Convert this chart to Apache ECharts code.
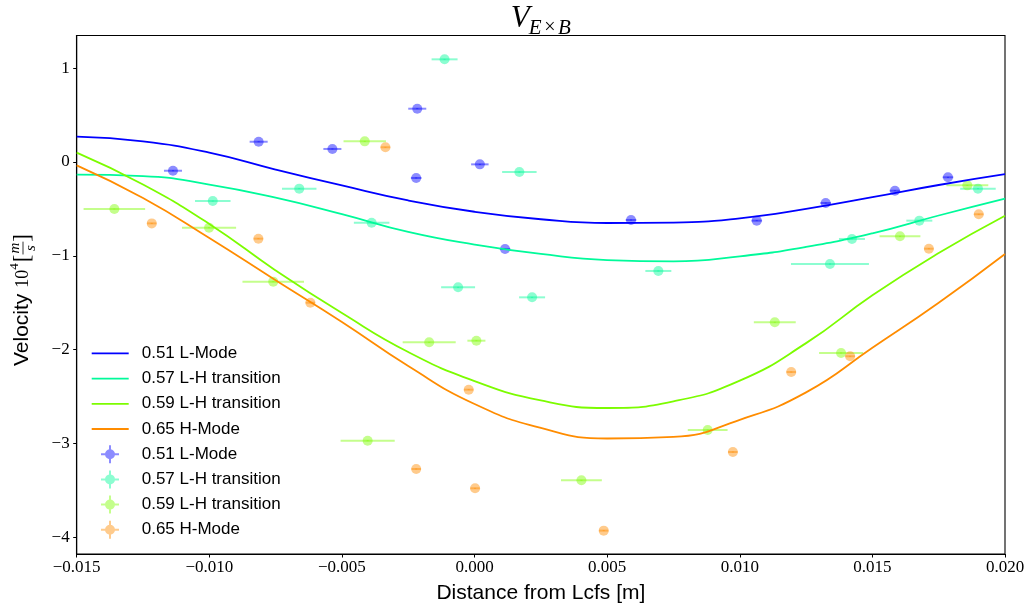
<!DOCTYPE html>
<html>
<head>
<meta charset="utf-8">
<script src="https://cdn.jsdelivr.net/npm/echarts@6/dist/echarts.min.js"></script>
<style>
  html, body { margin: 0; padding: 0; background: #fff; }
  #chart { width: 1029px; height: 610px; }
</style>
</head>
<body>
<div id="chart"></div>
<script>
// Axis ticks
const xTicks = [-0.015, -0.010, -0.005, 0.000, 0.005, 0.010, 0.015, 0.020];
const yTicks = [-4, -3, -2, -1, 0, 1];

// Shot labels
const groupLabels = ['0.51 L-Mode', '0.57 L-H transition', '0.59 L-H transition', '0.65 H-Mode'];

// Fitted profiles, sampled along the radial distance
const fitX   = [-0.015, -0.0125, -0.010, -0.0075, -0.005, -0.0025, 0.000, 0.0025, 0.005, 0.0075, 0.010, 0.0125, 0.015, 0.0175, 0.020];
const fit051 = [0.27, 0.22, 0.10, -0.08, -0.25, -0.41, -0.53, -0.61, -0.65, -0.645, -0.60, -0.50, -0.375, -0.245, -0.13];
const fit057 = [-0.135, -0.15, -0.24, -0.38, -0.555, -0.745, -0.88, -0.98, -1.045, -1.058, -1.005, -0.905, -0.76, -0.57, -0.39];
const fit059 = [0.10, -0.24, -0.66, -1.155, -1.61, -2.025, -2.334, -2.541, -2.621, -2.55, -2.33, -1.93, -1.42, -0.97, -0.572];
const fit065 = [-0.036, -0.384, -0.81, -1.26, -1.705, -2.174, -2.579, -2.834, -2.946, -2.93, -2.747, -2.455, -1.98, -1.50, -0.98];

// Measured points: position, velocity, and their uncertainties
const x051 = [-0.01137, -0.00814, -0.00536, -0.00216, -0.0022, 0.0002, 0.00115, 0.0059, 0.01064, 0.01324, 0.01585, 0.01785];
const y051 = [-0.093, 0.216, 0.139, 0.568, -0.170, -0.025, -0.927, -0.618, -0.625, -0.437, -0.306, -0.163];
const xe051 = [0.00034, 0.00034, 0.00034, 0.00034, 0.0002, 0.00033, 0.0002, 0.0002, 0.0002, 0.0002, 0.0002, 0.0002];
const ye051 = [0.005, 0.005, 0.005, 0.005, 0.005, 0.005, 0.005, 0.005, 0.005, 0.005, 0.005, 0.005];

const x057 = [-0.00987, -0.00661, -0.00388, -0.00113, 0.00169, 0.00693, -0.00062, 0.00217, 0.01423, 0.0134, 0.01677, 0.01898];
const y057 = [-0.416, -0.284, -0.647, 1.094, -0.107, -1.161, -1.335, -1.442, -0.820, -1.087, -0.625, -0.284];
const xe057 = [0.00067, 0.00065, 0.00067, 0.00049, 0.00065, 0.00049, 0.00064, 0.00049, 0.00049, 0.00147, 0.00049, 0.00067];
const ye057 = [0.005, 0.005, 0.005, 0.005, 0.005, 0.005, 0.005, 0.005, 0.005, 0.005, 0.005, 0.005];

const x059 = [-0.01358, -0.01001, -0.00414, -0.00759, -0.00403, -0.00171, 0.00007, 0.00403, 0.00879, 0.01132, 0.01382, 0.01604, 0.01858];
const y059 = [-0.501, -0.700, 0.220, -1.275, -2.970, -1.921, -1.904, -3.392, -2.856, -1.708, -2.035, -0.792, -0.249];
const xe059 = [0.00116, 0.00102, 0.0008, 0.00116, 0.00102, 0.001, 0.00034, 0.00077, 0.00075, 0.00079, 0.00083, 0.00077, 0.00079];
const ye059 = [0.005, 0.005, 0.005, 0.005, 0.005, 0.005, 0.005, 0.005, 0.005, 0.005, 0.005, 0.005, 0.005];

const x065 = [-0.01217, -0.00815, -0.00336, -0.00619, -0.00022, -0.0022, 0.00002, 0.00487, 0.00974, 0.01194, 0.01416, 0.01713, 0.01901];
const y065 = [-0.654, -0.817, 0.157, -1.499, -2.426, -3.271, -3.477, -3.928, -3.09, -2.238, -2.070, -0.924, -0.557];
const xe065 = [0.00018, 0.00018, 0.00018, 0.00018, 0.00018, 0.00018, 0.00018, 0.00018, 0.00018, 0.00018, 0.00018, 0.00018, 0.00018];
const ye065 = [0.005, 0.005, 0.005, 0.005, 0.005, 0.005, 0.005, 0.005, 0.005, 0.005, 0.005, 0.005, 0.005];

// ---------------------------------------------------------------------------
const colors = ['#0000ff', '#00fa9a', '#7cfc00', '#ff8c00'];
const alpha = 0.45;
const SANS = '"Liberation Sans", Arial, Helvetica, sans-serif';
const SERIF = '"Liberation Serif", "Times New Roman", serif';

function rgba(hex, a) {
  const n = parseInt(hex.slice(1), 16);
  return 'rgba(' + (n >> 16) + ',' + ((n >> 8) & 255) + ',' + (n & 255) + ',' + a + ')';
}
const minus = v => (v < 0 ? '\u2212' : '');

const fits = [fit051, fit057, fit059, fit065];
const pts = [
  [x051, y051, xe051, ye051],
  [x057, y057, xe057, ye057],
  [x059, y059, xe059, ye059],
  [x065, y065, xe065, ye065]
];

const lineSeries = fits.map((ys, g) => ({
  name: 'fit:' + groupLabels[g],
  type: 'line',
  data: fitX.map((x, i) => [x, ys[i]]),
  smooth: 0.5,
  showSymbol: false,
  silent: true,
  z: 3,
  lineStyle: { color: colors[g], width: 1.8 },
  itemStyle: { color: colors[g] }
}));

function errorBarRenderer(color) {
  return function (params, api) {
    const x = api.value(0), y = api.value(1), xe = api.value(2), ye = api.value(3);
    const c = api.coord([x, y]);
    const l = api.coord([x - xe, y]), r = api.coord([x + xe, y]);
    const t = api.coord([x, y + ye]), b = api.coord([x, y - ye]);
    const s = { stroke: color, lineWidth: 2, opacity: alpha };
    return {
      type: 'group',
      children: [
        { type: 'line', shape: { x1: l[0], y1: c[1], x2: r[0], y2: c[1] }, style: s },
        { type: 'line', shape: { x1: c[0], y1: t[1], x2: c[0], y2: b[1] }, style: s },
        { type: 'circle', shape: { cx: c[0], cy: c[1], r: 5 }, style: { fill: color, opacity: alpha } }
      ]
    };
  };
}

const pointSeries = pts.map((p, g) => ({
  name: 'data:' + groupLabels[g],
  type: 'custom',
  renderItem: errorBarRenderer(colors[g]),
  data: p[0].map((x, i) => [x, p[1][i], p[2][i], p[3][i]]),
  encode: { x: 0, y: 1 },
  silent: true,
  z: 2,
  itemStyle: { color: colors[g] }
}));

// Legend glyphs
const lineIcon = 'path://M0,0H40V2H0Z';
const errIcon = 'path://M0,8H18V10H0Z M8,0H10V18H8Z M14,9A5,5,0,1,1,4,9A5,5,0,1,1,14,9Z';
const legendText = { fontFamily: SANS, fontSize: 17, color: '#000', lineHeight: 25.2 };

// Text measuring for composed math labels
const mctx = document.createElement('canvas').getContext('2d');
function tw(font, s) { mctx.font = font; return mctx.measureText(s).width; }

function txt(text, x, y, font) {
  return {
    type: 'text', x: x, y: y,
    style: { text: text, font: font, fill: '#000', align: 'left', textAlign: 'left',
             verticalAlign: 'middle', textVerticalAlign: 'middle' }
  };
}

// Title  V_{E×B}
const fV = 'italic 31px ' + SERIF, fSub = 'italic 21px ' + SERIF, fTimes = '20px ' + SERIF;
const wV = tw(fV, 'V'), wE = tw(fSub, 'E'), wT = tw(fTimes, '\u00d7'), wB = tw(fSub, 'B');
const opGap = 2.5;
const titleW = wV + wE + wT + wB + 2 * opGap - 1;
const tx0 = 540.8 - titleW / 2;
const titleEls = [
  txt('V', tx0, 19, fV),
  txt('E', tx0 + wV - 1, 28, fSub),
  txt('\u00d7', tx0 + wV - 1 + wE + opGap, 28, fTimes),
  txt('B', tx0 + wV - 1 + wE + wT + 2 * opGap, 28, fSub)
];

// Y axis name: Velocity 10^4 [m/s]
const fVel = '21px ' + SANS, fTen = '18px ' + SERIF, fSup = '13px ' + SERIF;
const fBr = '23px ' + SERIF, fFr = 'italic 15px ' + SERIF;
const wVel = tw(fVel, 'Velocity'), wTen = tw(fTen, '10'), wSup = tw(fSup, '4');
const wBr = tw(fBr, '['), wFr = Math.max(tw(fFr, 'm'), tw(fFr, 's')) + 2;
const yl = [];
let px = 0;
yl.push(txt('Velocity', px, 0, fVel)); px += wVel + 6;
yl.push(txt('10', px, 1, fTen)); px += wTen;
yl.push(txt('4', px, -7, fSup)); px += wSup + 1;
yl.push(txt('[', px, 1, fBr)); px += wBr;
yl.push(txt('m', px + (wFr - tw(fFr, 'm')) / 2, -7, fFr));
yl.push({ type: 'line', shape: { x1: px, y1: 1, x2: px + wFr, y2: 1 }, style: { stroke: '#000', lineWidth: 0.8 } });
yl.push(txt('s', px + (wFr - tw(fFr, 's')) / 2, 9, fFr));
px += wFr;
yl.push(txt(']', px, 1, fBr)); px += wBr;
const yNameW = px;
yl.forEach(el => { if (el.type === 'text') el.x -= yNameW / 2; else { el.shape.x1 -= yNameW / 2; el.shape.x2 -= yNameW / 2; } });

const option = {
  animation: false,
  backgroundColor: '#fff',
  grid: { left: 76.7, right: 24, top: 35.5, bottom: 56, show: true, borderColor: '#000', borderWidth: 1.1, backgroundColor: 'transparent' },
  xAxis: {
    type: 'value', min: -0.015, max: 0.020, interval: 0.005,
    name: 'Distance from Lcfs [m]', nameLocation: 'middle', nameGap: 29,
    nameTextStyle: { fontFamily: SANS, fontSize: 21, color: '#000' },
    axisLine: { show: true, onZero: false, lineStyle: { color: '#000', width: 1.1 } },
    axisTick: { show: true, inside: false, length: 3.5, customValues: xTicks, lineStyle: { color: '#000', width: 1 } },
    axisLabel: { customValues: xTicks, margin: 5, fontFamily: SERIF, fontSize: 17, color: '#000',
                 formatter: v => minus(v) + Math.abs(v).toFixed(3) },
    splitLine: { show: false }
  },
  yAxis: {
    type: 'value', min: -4.177, max: 1.348,
    axisLine: { show: true, onZero: false, lineStyle: { color: '#000', width: 1.1 } },
    axisTick: { show: true, inside: false, length: 3.5, customValues: yTicks, lineStyle: { color: '#000', width: 1 } },
    axisLabel: { customValues: yTicks, margin: 7, fontFamily: SERIF, fontSize: 17, color: '#000',
                 formatter: v => minus(v) + Math.abs(v) },
    splitLine: { show: false }
  },
  legend: [
    {
      selectedMode: false, orient: 'vertical', left: 91.7, top: 340.8, padding: 0, itemGap: 0,
      itemWidth: 37, itemHeight: 12, symbolKeepAspect: true,
      textStyle: Object.assign({ padding: [0, 0, 0, 8] }, legendText),
      formatter: n => n.replace(/^fit:/, ''),
      data: groupLabels.map((l, g) => ({ name: 'fit:' + l, icon: lineIcon, itemStyle: { color: colors[g] } }))
    },
    {
      selectedMode: false, orient: 'vertical', left: 101, top: 441.6, padding: 0, itemGap: 0,
      itemWidth: 18, itemHeight: 18, symbolKeepAspect: true,
      textStyle: Object.assign({ padding: [0, 0, 0, 17.7] }, legendText),
      formatter: n => n.replace(/^data:/, ''),
      data: groupLabels.map((l, g) => ({ name: 'data:' + l, icon: errIcon, itemStyle: { color: rgba(colors[g], alpha) } }))
    }
  ],
  graphic: [
    { type: 'group', children: titleEls },
    { type: 'group', x: 22, y: 300, rotation: Math.PI / 2, children: yl }
  ],
  series: lineSeries.concat(pointSeries)
};

const chart = echarts.init(document.getElementById('chart'), null, { renderer: 'canvas' });
chart.setOption(option);
</script>
</body>
</html>
